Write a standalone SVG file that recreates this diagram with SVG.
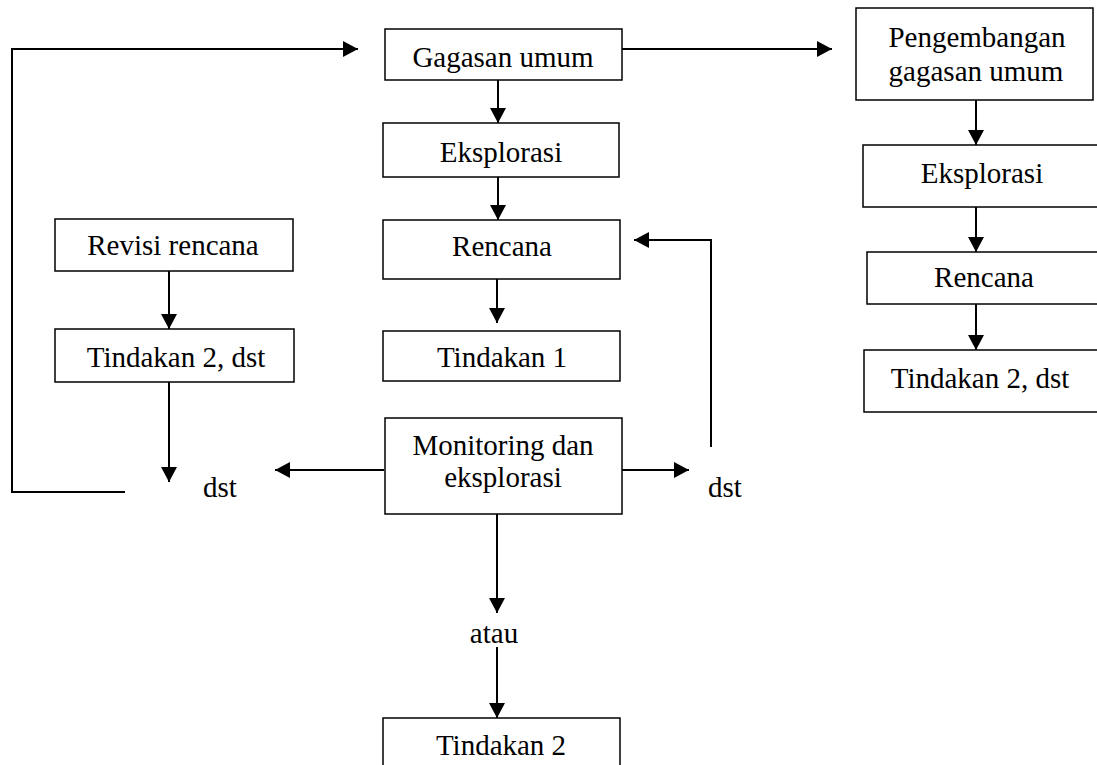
<svg xmlns="http://www.w3.org/2000/svg" width="1097" height="765" viewBox="0 0 1097 765">
  <style>
    .box { fill: #ffffff; stroke: #000000; stroke-width: 1.5; }
    .lbl { font-family: "Liberation Serif", "Times New Roman", serif; font-size: 29px; fill: #000000; }
    .mid { text-anchor: middle; }
    .conn { fill: none; stroke: #000000; stroke-width: 2; }
  </style>
  <defs>
    <marker id="arrow" markerUnits="userSpaceOnUse" markerWidth="16" markerHeight="16" refX="15" refY="8" orient="auto">
      <path d="M0,0 L15,8 L0,16 Z" fill="#000000"/>
    </marker>
  </defs>
  <rect width="1097" height="765" fill="#ffffff"/>

  <g id="connectors">
    <path class="conn" d="M125,492 H12 V49 H358" marker-end="url(#arrow)"/>
    <path class="conn" d="M622,49 H832" marker-end="url(#arrow)"/>
    <path class="conn" d="M498,80 V123" marker-end="url(#arrow)"/>
    <path class="conn" d="M498,177 V220" marker-end="url(#arrow)"/>
    <path class="conn" d="M497,279 V323" marker-end="url(#arrow)"/>
    <path class="conn" d="M384,470 H275" marker-end="url(#arrow)"/>
    <path class="conn" d="M622,470 H689" marker-end="url(#arrow)"/>
    <path class="conn" d="M711,447 V240 H634" marker-end="url(#arrow)"/>
    <path class="conn" d="M497,514 V613" marker-end="url(#arrow)"/>
    <path class="conn" d="M497,647 V718" marker-end="url(#arrow)"/>
    <path class="conn" d="M169,271 V329" marker-end="url(#arrow)"/>
    <path class="conn" d="M169,382 V482" marker-end="url(#arrow)"/>
    <path class="conn" d="M976,100 V145" marker-end="url(#arrow)"/>
    <path class="conn" d="M976,207 V252" marker-end="url(#arrow)"/>
    <path class="conn" d="M976,304 V350" marker-end="url(#arrow)"/>
  </g>

  <g id="gagasan-umum">
    <rect class="box" x="385" y="29" width="237" height="51"/>
    <text class="lbl mid" x="503" y="67">Gagasan umum</text>
  </g>
  <g id="eksplorasi">
    <rect class="box" x="383" y="123" width="236" height="54"/>
    <text class="lbl mid" x="501" y="162">Eksplorasi</text>
  </g>
  <g id="rencana">
    <rect class="box" x="383" y="220" width="237" height="59"/>
    <text class="lbl mid" x="502" y="256">Rencana</text>
  </g>
  <g id="tindakan-1">
    <rect class="box" x="383" y="331" width="237" height="50"/>
    <text class="lbl mid" x="502" y="367">Tindakan 1</text>
  </g>
  <g id="monitoring">
    <rect class="box" x="385" y="418" width="237" height="96"/>
    <text class="lbl mid" x="503" y="455">Monitoring dan</text>
    <text class="lbl mid" x="503" y="487">eksplorasi</text>
  </g>
  <g id="atau">
    <text class="lbl mid" x="494" y="643">atau</text>
  </g>
  <g id="tindakan-2">
    <rect class="box" x="383" y="718" width="237" height="60"/>
    <text class="lbl mid" x="501" y="755">Tindakan 2</text>
  </g>
  <g id="revisi-rencana">
    <rect class="box" x="55" y="219" width="238" height="52"/>
    <text class="lbl mid" x="173" y="255">Revisi rencana</text>
  </g>
  <g id="tindakan-2-dst-left">
    <rect class="box" x="55" y="329" width="239" height="53"/>
    <text class="lbl mid" x="176" y="367">Tindakan 2, dst</text>
  </g>
  <g id="dst-left">
    <text class="lbl" x="203" y="497">dst</text>
  </g>
  <g id="dst-right">
    <text class="lbl" x="708" y="497">dst</text>
  </g>
  <g id="pengembangan">
    <rect class="box" x="856" y="8" width="237" height="92"/>
    <text class="lbl mid" x="977" y="47">Pengembangan</text>
    <text class="lbl mid" x="976" y="81">gagasan umum</text>
  </g>
  <g id="eksplorasi-right">
    <rect class="box" x="863" y="145" width="240" height="62"/>
    <text class="lbl mid" x="982" y="183">Eksplorasi</text>
  </g>
  <g id="rencana-right">
    <rect class="box" x="867" y="252" width="236" height="52"/>
    <text class="lbl mid" x="984" y="287">Rencana</text>
  </g>
  <g id="tindakan-2-dst-right">
    <rect class="box" x="864" y="350" width="240" height="62"/>
    <text class="lbl mid" x="980" y="388">Tindakan 2, dst</text>
  </g>
</svg>
